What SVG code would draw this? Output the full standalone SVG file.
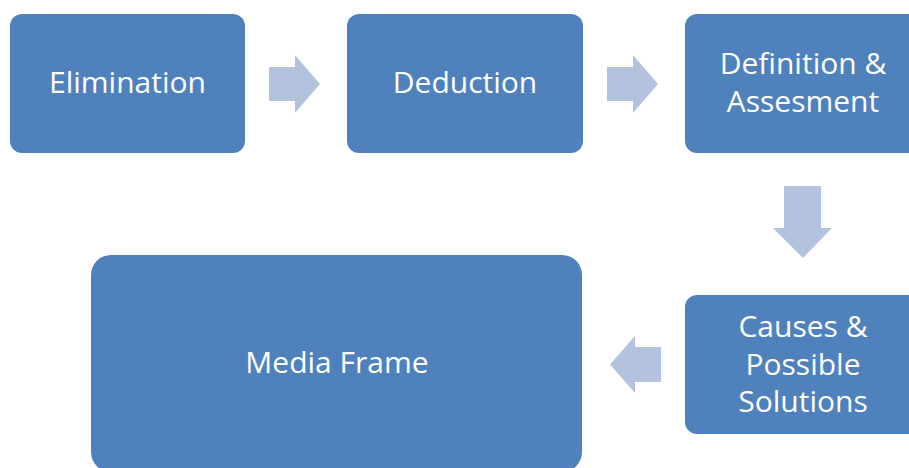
<svg xmlns="http://www.w3.org/2000/svg" width="909" height="468" viewBox="0 0 909 468">
<style>
.box{fill:#4F81BD;}
.arr{fill:#B3C2DD;}
.t{font-family:"Open Sans","Liberation Sans",sans-serif;font-size:30px;fill:#FFFFFF;text-anchor:middle;}
</style>
<rect width="909" height="468" fill="#FFFFFF"/>
<g id="connectors">
<polygon class="arr" points="269,67 295,67 295,55 320,84 295,113 295,101 269,101"/>
<polygon class="arr" points="607,67 633,67 633,55 658,84 633,113 633,101 607,101"/>
<polygon class="arr" points="784,186 821,186 821,228 832,228 803,258 773,228 784,228"/>
<polygon class="arr" points="661,347 635,347 635,336 610,364.5 635,393 635,382 661,382"/>
</g>
<g id="elimination">
<rect class="box" x="10" y="14" width="235" height="139" rx="12"/>
<text class="t" x="127.5" y="93">Elimination</text>
</g>
<g id="deduction">
<rect class="box" x="347" y="14" width="236" height="139" rx="12"/>
<text class="t" x="465" y="93">Deduction</text>
</g>
<g id="definition">
<rect class="box" x="685" y="14" width="236" height="139" rx="12"/>
<text class="t" x="803" y="74">Definition &amp;</text>
<text class="t" x="803" y="112">Assesment</text>
</g>
<g id="causes">
<rect class="box" x="685" y="295" width="236" height="139" rx="12"/>
<text class="t" x="803" y="337">Causes &amp;</text>
<text class="t" x="803" y="374.5">Possible</text>
<text class="t" x="803" y="412">Solutions</text>
</g>
<g id="media-frame">
<rect class="box" x="91" y="255" width="491" height="217" rx="20"/>
<text class="t" x="337" y="373">Media Frame</text>
</g>
</svg>
